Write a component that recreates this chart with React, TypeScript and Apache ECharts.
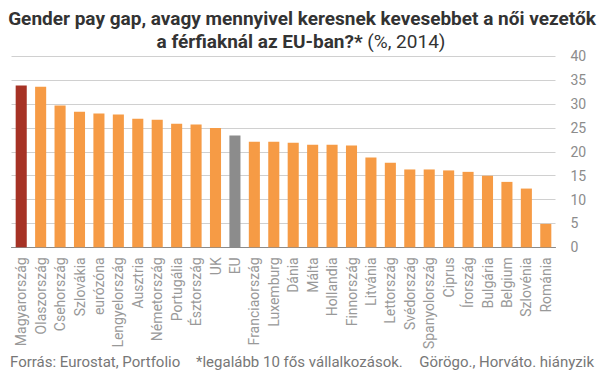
import React, { useEffect, useRef } from "react";
import * as echarts from "echarts";

const categories = [
  "Magyarország", "Olaszország", "Csehország", "Szlovákia", "eurózóna", "Lengyelország",
  "Ausztria", "Németország", "Portugália", "Észtország", "UK", "EU", "Franciaország",
  "Luxemburg", "Dánia", "Málta", "Hollandia", "Finnország", "Litvánia", "Lettország",
  "Svédország", "Spanyolország", "Ciprus", "Írország", "Bulgária", "Belgium", "Szlovénia", "Románia",
];
const values = [
  33.9, 33.6, 29.7, 28.4, 28.0, 27.8, 26.9, 26.7, 25.9, 25.7, 25.0, 23.4, 22.1,
  22.1, 21.9, 21.5, 21.5, 21.3, 18.8, 17.7, 16.3, 16.3, 16.1, 15.8, 15.0, 13.7, 12.3, 4.9,
];
const yTicks = { min: 0, max: 40, interval: 5 };
const highlight = "Magyarország";
const aggregate = "EU";

const titleLine1 = "Gender pay gap, avagy mennyivel keresnek kevesebbet a női vezetők";
const titleLine2Bold = "a férfiaknál az EU-ban?*";
const titleLine2Normal = "(%, 2014)";
const footSource = "Forrás: Eurostat, Portfolio";
const footNote = "*legalább 10 fős vállalkozások.";
const footMissing = "Görögo., Horváto. hiányzik";

const FONT = "Roboto, 'Noto Sans', sans-serif";

export default function App() {
  const ref = useRef<HTMLDivElement>(null);
  useEffect(() => {
    if (!ref.current) return;
    const chart = echarts.init(ref.current, null, { renderer: "svg" });
    chart.setOption({
      animation: false,
      backgroundColor: "#ffffff",
      textStyle: { fontFamily: FONT },
      grid: {
        left: 11.5,
        right: 50.5,
        top: 56.3,
        bottom: 130.7,
        containLabel: false,
        outerBoundsMode: "none",
      },
      xAxis: {
        type: "category",
        data: categories,
        axisLine: { show: true, lineStyle: { color: "#8a8a8a", width: 1 } },
        axisTick: { show: false },
        axisLabel: {
          rotate: 90,
          interval: 0,
          margin: 10,
          color: "#999999",
          fontSize: 14,
          fontFamily: FONT,
        },
      },
      yAxis: {
        type: "value",
        position: "right",
        min: yTicks.min,
        max: yTicks.max,
        interval: yTicks.interval,
        axisLine: { show: false },
        axisTick: { show: false },
        axisLabel: { margin: 15, color: "#8c8c8c", fontSize: 14, fontFamily: FONT },
        splitLine: { lineStyle: { color: "#d0d0d0", width: 1 } },
      },
      series: [
        {
          type: "bar",
          data: values,
          barWidth: "57%",
          itemStyle: {
            color: (p: any) =>
              p.name === highlight ? "#a63225" : p.name === aggregate ? "#8c8c8c" : "#f69b45",
          },
        },
      ],
      graphic: [
        {
          type: "text",
          x: 302,
          y: 18.3,
          style: {
            text: titleLine1,
            align: "center",
            verticalAlign: "middle",
            fontFamily: FONT,
            fontSize: 19,
            fontWeight: "bold",
            fill: "#333333",
          },
        },
        {
          type: "text",
          x: 301,
          y: 41.3,
          style: {
            text: `{b|${titleLine2Bold}} {n|${titleLine2Normal}}`,
            align: "center",
            verticalAlign: "middle",
            fontFamily: FONT,
            fontSize: 19,
            fill: "#333333",
            rich: {
              b: { fontFamily: FONT, fontSize: 19, fontWeight: "bold", fill: "#333333" },
              n: { fontFamily: FONT, fontSize: 19, fontWeight: "normal", fill: "#333333" },
            },
          },
        },
        {
          type: "text",
          x: 10,
          y: 361.7,
          style: { text: footSource, align: "left", verticalAlign: "middle", fontFamily: FONT, fontSize: 15, fill: "#777777" },
        },
        {
          type: "text",
          x: 196,
          y: 361.7,
          style: { text: footNote, align: "left", verticalAlign: "middle", fontFamily: FONT, fontSize: 15, fill: "#777777" },
        },
        {
          type: "text",
          x: 594,
          y: 361.7,
          style: { text: footMissing, align: "right", verticalAlign: "middle", fontFamily: FONT, fontSize: 15, fill: "#777777" },
        },
      ],
    });
    return () => chart.dispose();
  }, []);
  return <div ref={ref} style={{ width: 606, height: 378, position: "absolute", left: 0, top: 0 }} />;
}
